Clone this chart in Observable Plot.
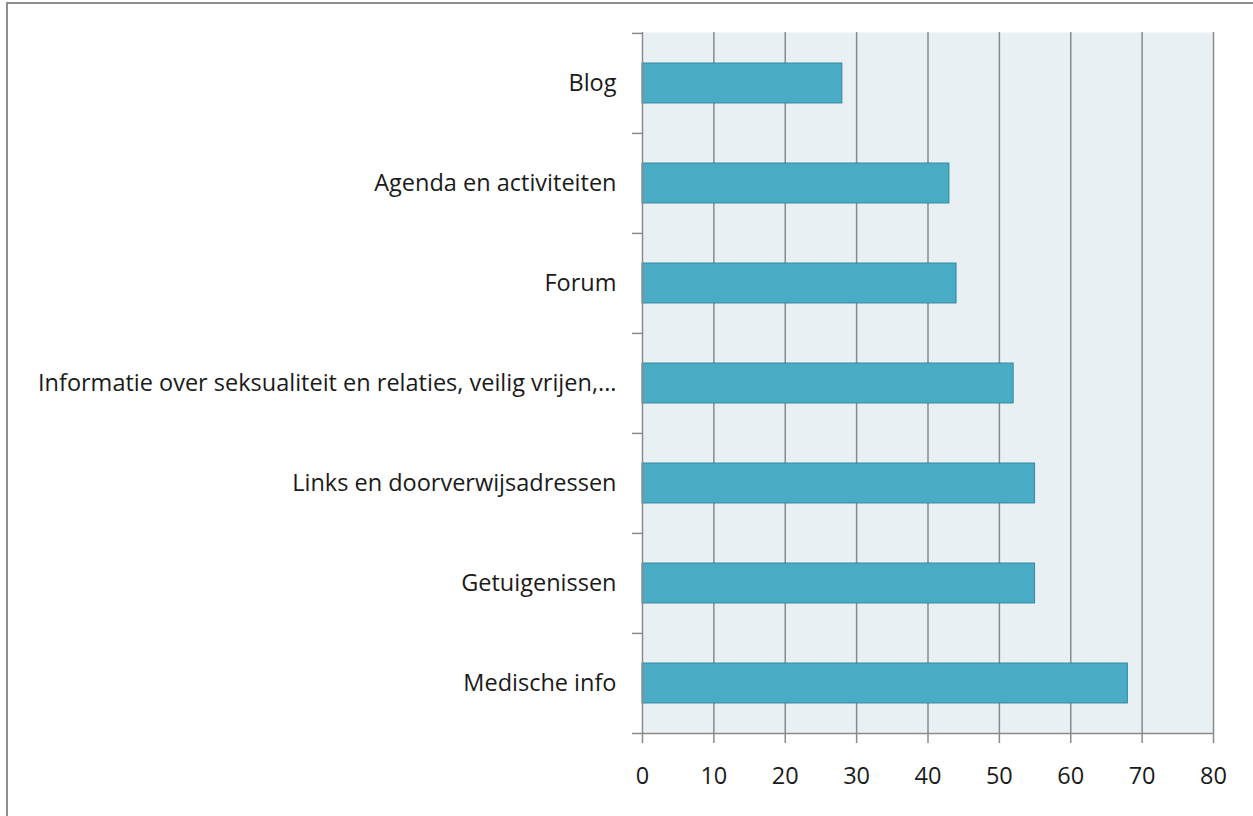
<!DOCTYPE html>
<html>
<head>
<meta charset="utf-8">
<script src="https://cdn.jsdelivr.net/npm/d3@7"></script>
<script src="https://cdn.jsdelivr.net/npm/@observablehq/plot@0.6"></script>
<style>
  html, body { margin: 0; padding: 0; background: #fff; }
  #wrap { position: relative; width: 1253px; height: 816px; overflow: hidden; }
  #frame { position: absolute; left: 6px; top: 2px; width: 1300px; height: 900px; border: 2.5px solid #8e8e8e; box-sizing: border-box; }
  #chart { position: absolute; left: 0; top: 0; }
</style>
</head>
<body>
<div id="wrap"><div id="frame"></div><div id="chart"></div></div>
<script>
const categories = ["Blog", "Agenda en activiteiten", "Forum", "Informatie over seksualiteit en relaties, veilig vrijen,...", "Links en doorverwijsadressen", "Getuigenissen", "Medische info"];
const values = [28, 43, 44, 52, 55, 55, 68];
const xTicks = [0, 10, 20, 30, 40, 50, 60, 70, 80];

const data = categories.map((c, i) => ({category: c, value: values[i]}));

const W = 1253, H = 816, mT = 32, mB = 83, mL = 642, mR = 40;
const step = (H - mT - mB) / categories.length;
const font = "'Open Sans', sans-serif";

const chart = Plot.plot({
  width: W,
  height: H,
  marginTop: mT,
  marginBottom: mB,
  marginLeft: mL,
  marginRight: mR,
  style: {fontFamily: font, background: "transparent", color: "#1a1a1a"},
  x: {domain: [0, 80], ticks: xTicks, label: null},
  y: {domain: categories, padding: 0, label: null},
  marks: [
    Plot.frame({fill: "#e9f0f4", stroke: null}),
    Plot.ruleX(xTicks.slice(1), {stroke: "#8a8a8a", strokeWidth: 1.5}),
    Plot.barX(data, {y: "category", x: "value", fill: "#4aabc5", stroke: "#2f87a0", strokeWidth: 1, insetTop: step * 0.3, insetBottom: step * 0.3}),
    // y axis line
    Plot.ruleX([0], {stroke: "#8a8a8a", strokeWidth: 1.5}),
    // category boundary ticks
    Plot.ruleY(categories, {y: d => d, dy: -step / 2, x1: -1.4, x2: 0, stroke: "#8a8a8a", strokeWidth: 1.5}),
    Plot.ruleY([categories[categories.length - 1]], {y: d => d, dy: step / 2, x1: -1.4, x2: 80, stroke: "#8a8a8a", strokeWidth: 1.5}),
    Plot.axisX({ticks: xTicks, tickSize: 10, tickPadding: 24, stroke: "#8a8a8a", strokeWidth: 1.5, fontSize: 23.5, fill: "#1a1a1a", label: null, tickFormat: d => String(d)}),
    Plot.axisY({tickSize: 0, tickPadding: 26, fontSize: 23.5, fill: "#1a1a1a", label: null, textAnchor: "end"})
  ]
});
document.getElementById("chart").appendChild(chart);
</script>
</body>
</html>
